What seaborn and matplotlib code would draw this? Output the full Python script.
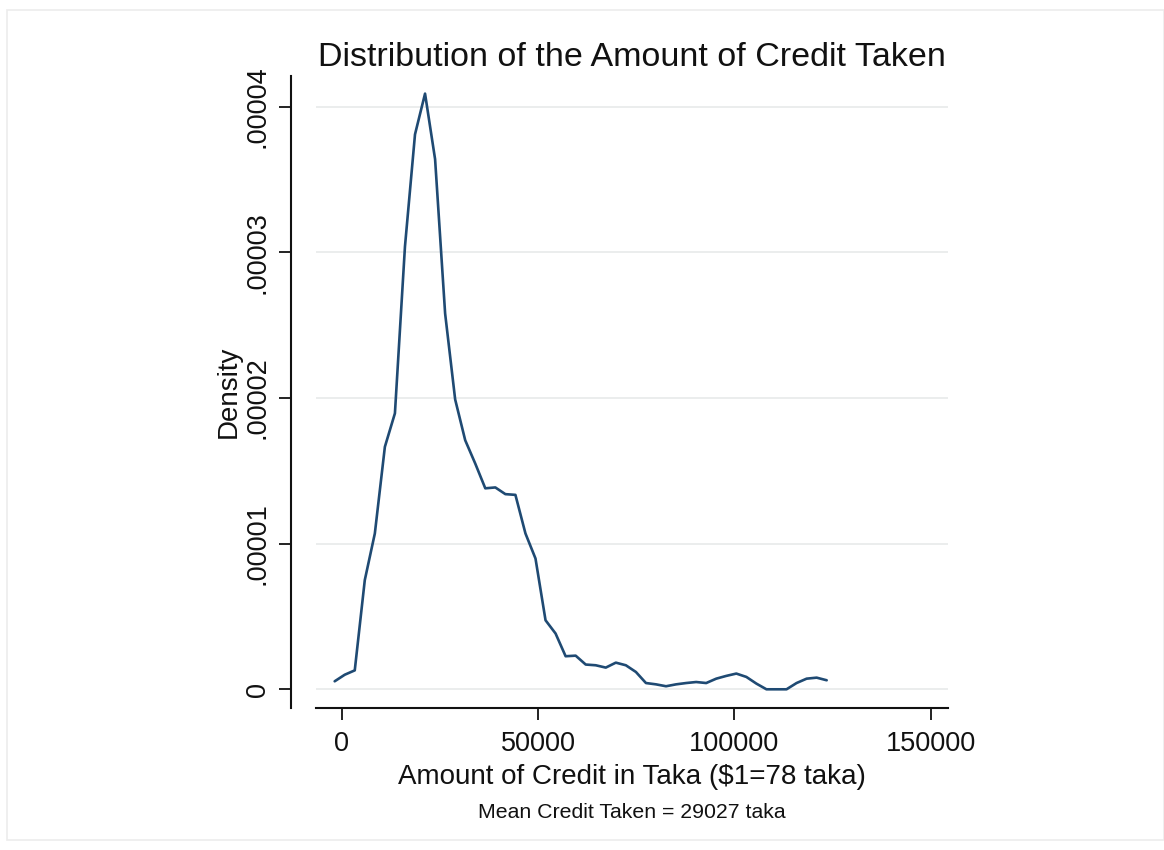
import matplotlib
matplotlib.use("Agg")
import matplotlib.pyplot as plt
import seaborn as sns
import pandas as pd
from matplotlib.patches import Rectangle

# Kernel density estimate of credit amounts (50 evaluation points)
credit_taka = [
    -1790, 767, 3324, 5881, 8438, 10995, 13552, 16109, 18666, 21223,
    23780, 26337, 28894, 31451, 34008, 36565, 39122, 41679, 44236, 46793,
    49350, 51907, 54464, 57021, 59578, 62135, 64692, 67249, 69806, 72363,
    74920, 77477, 80034, 82591, 85148, 87705, 90262, 92819, 95376, 97933,
    100490, 103047, 105604, 108161, 110718, 113275, 115832, 118389, 120946, 123503,
]
density = [
    5.5e-7, 1.0e-6, 1.3e-6, 7.5e-6, 1.07e-5, 1.665e-5, 1.895e-5, 3.04e-5, 3.81e-5, 4.09e-5,
    3.64e-5, 2.58e-5, 1.99e-5, 1.71e-5, 1.55e-5, 1.38e-5, 1.386e-5, 1.34e-5, 1.335e-5, 1.07e-5,
    8.98e-6, 4.74e-6, 3.83e-6, 2.27e-6, 2.31e-6, 1.70e-6, 1.65e-6, 1.49e-6, 1.83e-6, 1.65e-6,
    1.19e-6, 4.3e-7, 3.4e-7, 2.1e-7, 3.4e-7, 4.3e-7, 5.0e-7, 4.3e-7, 7.3e-7, 9.2e-7,
    1.08e-6, 8.5e-7, 3.9e-7, 0.0, 0.0, 0.0, 4.3e-7, 7.3e-7, 8.0e-7, 6.2e-7,
]

x_ticks = [0, 50000, 100000, 150000]
x_tick_labels = ["0", "50000", "100000", "150000"]
y_ticks = [0, 0.00001, 0.00002, 0.00003, 0.00004]
y_tick_labels = ["0", ".00001", ".00002", ".00003", ".00004"]

title = "Distribution of the Amount of Credit Taken"
x_label = "Amount of Credit in Taka ($1=78 taka)"
y_label = "Density"
note = "Mean Credit Taken = 29027 taka"

sns.set_theme(style="white")
plt.rcParams["font.family"] = ["Liberation Sans", "DejaVu Sans"]

fig = plt.figure(figsize=(11.64, 8.5), dpi=100)
fig.patch.set_facecolor("white")

# faint frame around the graph
fig.patches.append(Rectangle((7 / 1164, 10 / 850), 1 - 7 / 1164, 830 / 850,
                             transform=fig.transFigure, fill=False,
                             edgecolor="#ececec", linewidth=1.2))

ax = fig.add_axes([316 / 1164, 142 / 850, 632 / 1164, 632 / 850])

df = pd.DataFrame({"credit": credit_taka, "density": density})
sns.lineplot(data=df, x="credit", y="density", ax=ax, color="#1f4a73",
             linewidth=1.9, sort=False)

ax.set_xlim(-6545, 154395)
ax.set_ylim(-1.284e-6, 4.211e-5)

ax.set_xticks(x_ticks)
ax.set_xticklabels(x_tick_labels)
ax.set_yticks(y_ticks)
ax.set_yticklabels(y_tick_labels)

ax.yaxis.grid(True, color="#e9ecec", linewidth=1.3)
ax.xaxis.grid(False)

for side in ["top", "right"]:
    ax.spines[side].set_visible(False)
ax.spines["left"].set_position(("outward", 18))
for side in ["left", "bottom"]:
    ax.spines[side].set_color("#111111")
    ax.spines[side].set_linewidth(1.5)

ax.tick_params(axis="both", which="major", direction="out", length=8.5, width=1.3,
               color="#111111", labelsize=19.5, labelcolor="#111111",
               left=True, bottom=True)
ax.tick_params(axis="x", pad=8)
ax.tick_params(axis="y", pad=6, labelrotation=90)
for lab in ax.get_yticklabels():
    lab.set_verticalalignment("center")
    lab.set_horizontalalignment("right")

ax.set_xlabel(x_label, fontsize=20, color="#111111", labelpad=5)
ax.set_ylabel(y_label, fontsize=20, color="#111111", labelpad=2)
ax.yaxis.set_label_coords(-0.117, 0.5)
ax.set_title(title, fontsize=24.5, color="#111111", pad=7)

fig.text(632 / 1164, 1 - 812 / 850, note, ha="center", va="center",
         fontsize=15.3, color="#111111")

fig.savefig("out.png", dpi=100, facecolor="white")
